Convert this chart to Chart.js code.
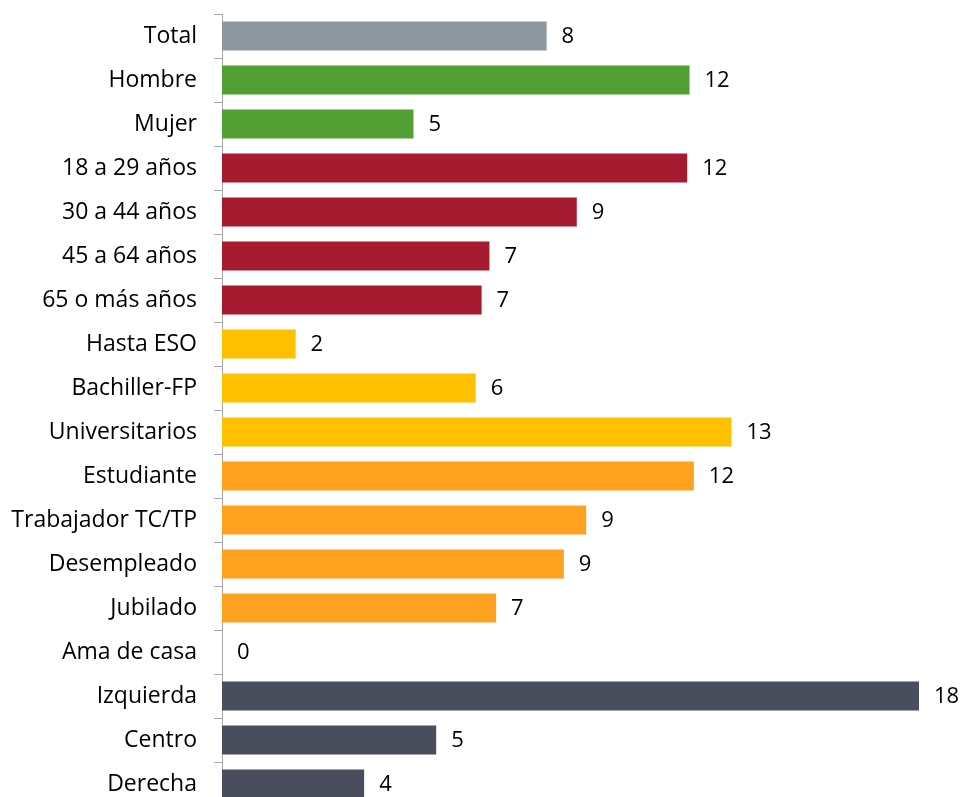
<!DOCTYPE html>
<html>
<head>
<meta charset="utf-8">
<script src="https://cdn.jsdelivr.net/npm/chart.js@4"></script>
<style>
  html, body { margin:0; padding:0; background:#fff; overflow:hidden; }
  #wrap { position:relative; width:963px; height:812px; }
</style>
</head>
<body>
<div id="wrap"><canvas id="c"></canvas></div>
<script>
const categories = ["Total","Hombre","Mujer","18 a 29 años","30 a 44 años","45 a 64 años","65 o más años","Hasta ESO","Bachiller-FP","Universitarios","Estudiante","Trabajador TC/TP","Desempleado","Jubilado","Ama de casa","Izquierda","Centro","Derecha"];
const values = [8.29, 11.94, 4.89, 11.88, 9.06, 6.83, 6.63, 1.88, 6.48, 13.01, 12.05, 9.30, 8.73, 7.00, 0, 17.8, 5.47, 3.63];
const barColors = ["#8E979D","#52A033","#52A033","#A61A30","#A61A30","#A61A30","#A61A30","#FFC000","#FFC000","#FFC000","#FFA01F","#FFA01F","#FFA01F","#FFA01F","#FFA01F","#4A4D5C","#4A4D5C","#4A4D5C"];

const FONT = "'Open Sans', sans-serif";
const FSIZE = 23;

const valueLabels = {
  id: 'valueLabels',
  afterDatasetsDraw(chart) {
    const ctx = chart.ctx;
    const meta = chart.getDatasetMeta(0);
    ctx.save();
    ctx.font = "22px " + FONT;
    ctx.fillStyle = "#000";
    ctx.textAlign = "left";
    ctx.textBaseline = "middle";
    meta.data.forEach((bar, i) => {
      const v = chart.data.datasets[0].data[i];
      ctx.fillText(String(Math.round(v)), bar.x + 15, bar.y + 1);
    });
    ctx.restore();
  }
};

new Chart(document.getElementById('c'), {
  type: 'bar',
  data: {
    labels: categories,
    datasets: [{
      data: values,
      backgroundColor: barColors,
      borderWidth: 0,
      categoryPercentage: 1.0,
      barPercentage: 0.66
    }]
  },
  options: {
    indexAxis: 'y',
    responsive: true,
    maintainAspectRatio: false,
    animation: false,
    layout: { padding: { top: 14, right: 44, left: 0, bottom: 6 } },
    plugins: { legend: { display: false }, tooltip: { enabled: false } },
    scales: {
      x: { display: false, min: 0, max: 17.8 },
      y: {
        afterFit(scale) { scale.width = 222; scale.paddingTop = 0; scale.paddingBottom = 0; },
        grid: { display: true, drawOnChartArea: false, drawTicks: true, tickLength: 8, color: '#A6A6A6', offset: true },
        border: { display: true, color: '#A6A6A6', width: 1 },
        ticks: { color: '#000', padding: 17, font: { family: FONT, size: FSIZE } }
      }
    }
  },
  plugins: [valueLabels]
});
</script>
</body>
</html>
